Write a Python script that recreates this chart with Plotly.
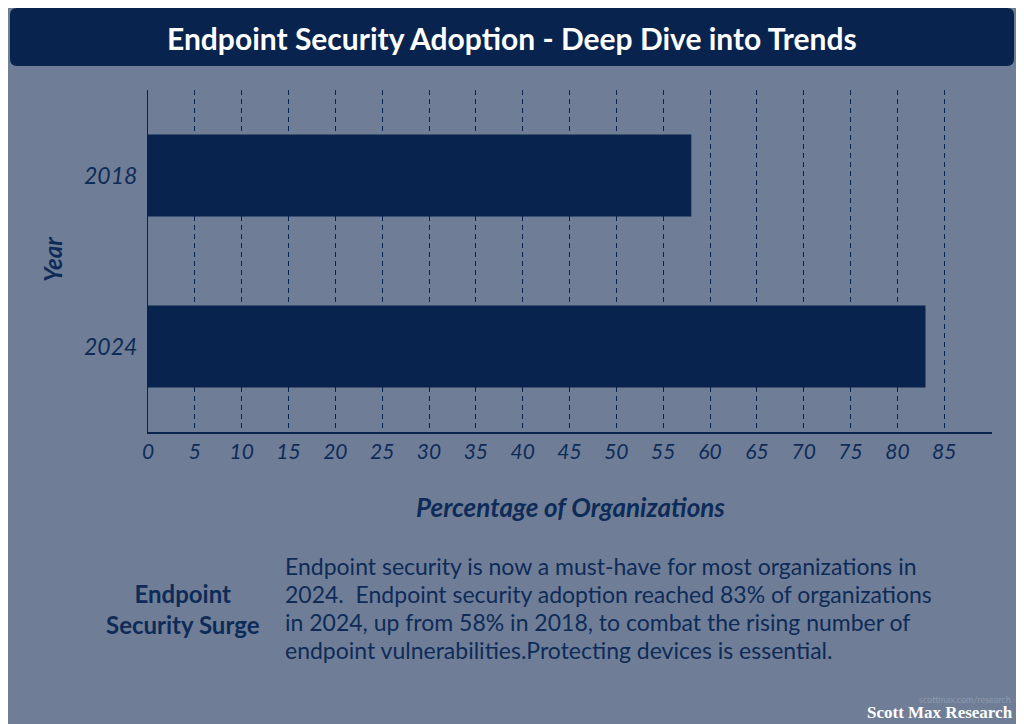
import plotly.graph_objects as go

# data
years = ["2018", "2024"]
adoption = [58, 83]
x_ticks = list(range(0, 95, 5))
x_tick_text = [str(v) if v < 90 else "" for v in x_ticks]

title = "Endpoint Security Adoption - Deep Dive into Trends"
side_heading = "Endpoint<br>Security Surge"
body_lines = [
    "Endpoint security is now a must-have for most organizations in",
    "2024.  Endpoint security adoption reached 83% of organizations",
    "in 2024, up from 58% in 2018, to combat the rising number of",
    "endpoint vulnerabilities.Protecting devices is essential.",
]

BG = "#6f7e96"
NAVY = "#08234d"
TEXT = "#0e2b58"
FONT = "Lato"

# the page puts the figure 8px in from the corner, so everything is laid out
# in screen pixels and shifted back by OFF
OFF = 8
W, H = 1024 - OFF, 724 - OFF
L, R, T, B = 148 - OFF, 992 - OFF, 90 - OFF, 432 - OFF


def px(x):
    return (x - OFF - L) / (R - L)


def py(y):
    return (B - (y - OFF)) / (B - T)


fig = go.Figure()
fig.add_trace(go.Bar(
    y=years,
    x=adoption,
    orientation="h",
    width=0.48,
    marker=dict(color=NAVY, line=dict(width=0)),
    hoverinfo="x+y",
))

# rounded title banner
x0, x1, y0, y1, r = 10, 1014, 8, 66, 7
path = (
    f"M {px(x0 + r)} {py(y0)} L {px(x1 - r)} {py(y0)} "
    f"Q {px(x1)} {py(y0)} {px(x1)} {py(y0 + r)} "
    f"L {px(x1)} {py(y1 - r)} Q {px(x1)} {py(y1)} {px(x1 - r)} {py(y1)} "
    f"L {px(x0 + r)} {py(y1)} Q {px(x0)} {py(y1)} {px(x0)} {py(y1 - r)} "
    f"L {px(x0)} {py(y0 + r)} Q {px(x0)} {py(y0)} {px(x0 + r)} {py(y0)} Z"
)
fig.add_shape(type="path", xref="paper", yref="paper", path=path,
              fillcolor=NAVY, line=dict(width=0), layer="below")

ann = []
ann.append(dict(text=f"<b>{title}</b>", x=px(512), y=py(38), xref="paper", yref="paper",
                showarrow=False, xanchor="center", yanchor="middle",
                font=dict(family=FONT, size=30, color="white")))
ann.append(dict(text="Year", x=px(52), y=py(260), xref="paper", yref="paper",
                showarrow=False, textangle=-90, xanchor="center", yanchor="middle",
                font=dict(family=FONT, size=24, color=TEXT, weight="bold", style="italic")))
ann.append(dict(text="Percentage of Organizations", x=px(570), y=py(507), xref="paper", yref="paper",
                showarrow=False, xanchor="center", yanchor="middle",
                font=dict(family=FONT, size=26, color=TEXT, weight="bold", style="italic")))
ann.append(dict(text=side_heading, x=px(183), y=py(609), xref="paper", yref="paper",
                showarrow=False, xanchor="center", yanchor="middle", align="center",
                font=dict(family=FONT, size=24, color=TEXT, weight="bold")))
for i, line in enumerate(body_lines):
    ann.append(dict(text=line, x=px(283), y=py(566 + 28 * i), xref="paper", yref="paper",
                    showarrow=False, xanchor="left", yanchor="middle",
                    font=dict(family=FONT, size=23, color=TEXT)))
ann.append(dict(text="scottmax.com/research", x=px(1013), y=py(699), xref="paper", yref="paper",
                showarrow=False, xanchor="right", yanchor="middle",
                font=dict(family="Lato", size=9, color="#8d99ae")))
ann.append(dict(text="<b>Scott Max Research</b>", x=px(1015), y=py(712), xref="paper", yref="paper",
                showarrow=False, xanchor="right", yanchor="middle",
                font=dict(family="Liberation Serif", size=17, color="white")))

fig.update_layout(
    width=W, height=H,
    margin=dict(l=L, r=W - R, t=T, b=H - B, pad=0),
    paper_bgcolor=BG, plot_bgcolor=BG,
    showlegend=False,
    annotations=ann,
    xaxis=dict(
        range=[0, 90.1], tickvals=x_ticks, ticktext=x_tick_text,
        showgrid=True, gridcolor=NAVY, gridwidth=1, griddash="5px,4px",
        zeroline=False, showline=True, linecolor=NAVY, linewidth=1.5,
        ticks="", ticklabelstandoff=0,
        tickfont=dict(family=FONT, size=21, color=TEXT, style="italic"),
    ),
    yaxis=dict(
        categoryorder="array", categoryarray=years, autorange="reversed",
        showgrid=False, zeroline=False, showline=True, linecolor=NAVY, linewidth=1,
        ticks="", ticklabelstandoff=5,
        tickfont=dict(family=FONT, size=23, color=TEXT, style="italic"),
    ),
)

fig.write_html("out.html")
